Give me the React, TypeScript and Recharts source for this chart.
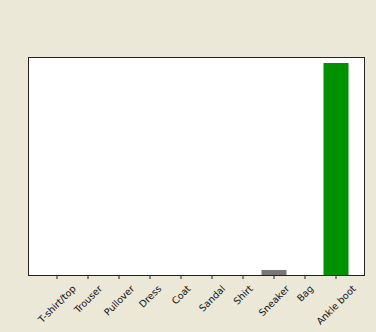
import React from 'react';
import { BarChart, Bar, XAxis, YAxis, CartesianGrid, Cell } from 'recharts';

const classNames = ['T-shirt/top', 'Trouser', 'Pullover', 'Dress', 'Coat', 'Sandal', 'Shirt', 'Sneaker', 'Bag', 'Ankle boot'];
const probabilities = [0, 0, 0, 0, 0, 0, 0, 0.023, 0, 0.977];

const data = classNames.map((name, i) => ({ name, p: probabilities[i] }));
const best = probabilities.indexOf(Math.max(...probabilities));

const FONT_SIZE = 9.5;
const FONT = 'DejaVu Sans';

let ctx: CanvasRenderingContext2D | null = null;
const measure = (s: string) => {
  if (!ctx) ctx = document.createElement('canvas').getContext('2d');
  if (!ctx) return s.length * 5.5;
  ctx.font = `${FONT_SIZE}px "${FONT}"`;
  return ctx.measureText(s).width;
};

// matplotlib style: rotation=45, ha=center, va=top
const RotatedTick = (props: any) => {
  const { x, y, payload } = props;
  const label = payload.value as string;
  const w = measure(label);
  const h = FONT_SIZE * 1.15;
  const top = y + 2;
  const cy = top + (w + h) / (2 * Math.SQRT2);
  return (
    <text
      x={x}
      y={cy}
      textAnchor="middle"
      dominantBaseline="central"
      fontSize={FONT_SIZE}
      fontFamily={FONT}
      fill="#111"
      transform={`rotate(-45, ${x}, ${cy})`}
    >
      {label}
    </text>
  );
};

const W = 376;
const H = 332;
const AXIS_H = 50;
const margin = { top: 58, right: 12, bottom: 57 - AXIS_H, left: 29 };

export default function App() {
  return (
    <div style={{ position: 'absolute', left: 0, top: 0, width: W, height: H, background: '#ebe8d8' }}>
      <BarChart width={W} height={H} data={data} margin={margin} barSize={25}>
        <CartesianGrid horizontal={false} vertical={false} fill="#ffffff" />
        <XAxis
          dataKey="name"
          interval={0}
          height={AXIS_H}
          padding={{ left: 12.5, right: 12.5 }}
          axisLine={false}
          tickLine={{ stroke: '#222' }}
          tickSize={4}
          tick={<RotatedTick />}
        />
        <YAxis hide domain={[0, 1]} />
        <Bar dataKey="p" isAnimationActive={false}>
          {data.map((d, i) => (
            <Cell key={d.name} fill={i === best ? '#009100' : '#777777'} />
          ))}
        </Bar>
      </BarChart>
      <div
        style={{
          position: 'absolute',
          left: margin.left - 1,
          top: margin.top - 1,
          width: W - margin.left - margin.right,
          height: 332 - 58 - 57,
          border: '1px solid #222',
          pointerEvents: 'none',
        }}
      />
    </div>
  );
}
